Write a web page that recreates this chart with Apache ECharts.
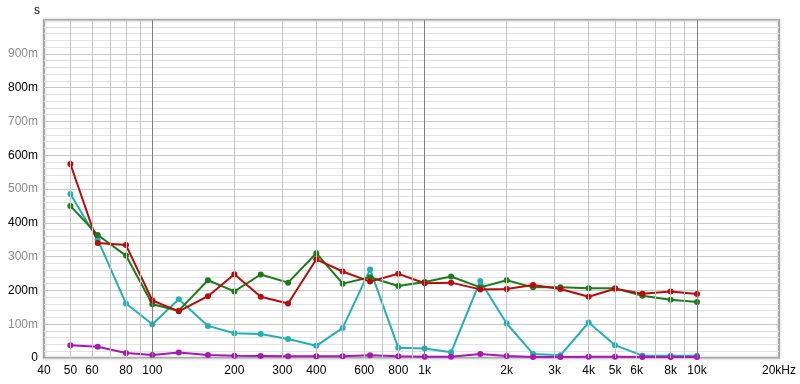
<!DOCTYPE html>
<html>
<head>
<meta charset="utf-8">
<script src="https://cdn.jsdelivr.net/npm/echarts@6/dist/echarts.min.js"></script>
<style>
html,body{margin:0;padding:0;background:#fff;}
#chart{width:800px;height:384px;}
</style>
</head>
<body>
<div id="chart"></div>
<script>
// Frequencies (Hz)
var freqs = [50, 63, 80, 100, 125, 160, 200, 250, 315, 400, 500, 630, 800, 1000, 1250, 1600, 2000, 2500, 3150, 4000, 5000, 6300, 8000, 10000];
// Values in seconds
var redValues = [0.574, 0.340, 0.334, 0.170, 0.138, 0.183, 0.248, 0.181, 0.161, 0.292, 0.256, 0.226, 0.249, 0.221, 0.223, 0.203, 0.204, 0.216, 0.204, 0.181, 0.205, 0.190, 0.197, 0.189];
var greenValues = [0.450, 0.364, 0.303, 0.159, 0.140, 0.230, 0.197, 0.247, 0.223, 0.310, 0.220, 0.239, 0.213, 0.225, 0.241, 0.209, 0.230, 0.209, 0.209, 0.206, 0.206, 0.184, 0.172, 0.166];
var cyanValues = [0.485, 0.350, 0.161, 0.100, 0.174, 0.095, 0.073, 0.071, 0.056, 0.036, 0.089, 0.262, 0.030, 0.028, 0.017, 0.228, 0.102, 0.012, 0.008, 0.105, 0.038, 0.007, 0.007, 0.007];
var magentaValues = [0.038, 0.033, 0.015, 0.009, 0.016, 0.009, 0.007, 0.006, 0.005, 0.005, 0.005, 0.008, 0.005, 0.004, 0.004, 0.012, 0.006, 0.003, 0.003, 0.004, 0.004, 0.003, 0.003, 0.003];
// Axis tick labels
var xTickValues = [40, 50, 60, 80, 100, 200, 300, 400, 600, 800, 1000, 2000, 3000, 4000, 5000, 6000, 8000, 10000, 20000];
var xMinorGrid = [50, 60, 70, 80, 90, 200, 300, 400, 500, 600, 700, 800, 900, 2000, 3000, 4000, 5000, 6000, 7000, 8000, 9000];
var xMajorGrid = [100, 1000, 10000];

function pairs(vals) { return freqs.map(function (f, i) { return [f, vals[i]]; }); }

function fmtX(v) {
  v = Math.round(v);
  if (v === 20000) return '20kHz';
  if (v >= 1000) return (v / 1000) + 'k';
  return String(v);
}

var gridLines = xMinorGrid.map(function (v) {
  return { xAxis: v, lineStyle: { color: '#c4c4c4', width: 1, type: 'solid' } };
}).concat(xMajorGrid.map(function (v) {
  return { xAxis: v, lineStyle: { color: '#808080', width: 1, type: 'solid' } };
}));

function lineSeries(name, vals, color) {
  return {
    name: name, type: 'line', data: pairs(vals), z: 3,
    symbol: 'circle', symbolSize: 6,
    itemStyle: { color: color },
    lineStyle: { color: color, width: 2 },
    animation: false
  };
}

var chart = echarts.init(document.getElementById('chart'), null, { renderer: 'canvas' });
chart.setOption({
  animation: false,
  backgroundColor: '#fff',
  textStyle: { fontFamily: 'Liberation Sans, Arial, sans-serif' },
  grid: {
    left: 44, right: 21, top: 20, bottom: 26,
    show: true, borderColor: '#a8a8a8', borderWidth: 2,
    shadowColor: 'rgba(0,0,0,0.25)', shadowBlur: 3
  },
  xAxis: {
    type: 'log', logBase: 10, min: 40, max: 20000,
    axisLine: { show: false },
    axisTick: { show: false },
    splitLine: { show: false },
    minorTick: { show: false },
    axisLabel: {
      customValues: xTickValues,
      formatter: fmtX,
      color: '#000', fontSize: 12, margin: 7,
      showMinLabel: true, showMaxLabel: true
    }
  },
  yAxis: {
    type: 'value', min: 0, max: 1, interval: 0.1,
    name: 's', nameLocation: 'end', nameGap: 3,
    nameTextStyle: { color: '#000', fontSize: 12, align: 'right', padding: [0, 4, 0, 0] },
    axisLine: { show: false },
    axisTick: { show: false },
    axisLabel: {
      fontSize: 12, margin: 6,
      formatter: function (v) {
        if (v === 0) return '0';
        if (v >= 0.999) return '';
        return Math.round(v * 1000) + 'm';
      },
      color: function (v) {
        var k = Math.round(v * 10);
        return (k % 2 === 0) ? '#000' : '#8c8c8c';
      }
    },
    splitLine: { show: true, lineStyle: { color: '#c8c8c8', width: 1 } },
    minorTick: { show: false, splitNumber: 5 },
    minorSplitLine: { show: true, lineStyle: { color: '#e2e2e2', width: 1 } }
  },
  series: [
    {
      name: 'grid', type: 'line', data: [], z: 1, silent: true,
      markLine: {
        silent: true, symbol: ['none', 'none'], animation: false,
        label: { show: false },
        data: gridLines
      }
    },
    lineSeries('cyan', cyanValues, '#22b0b8'),
    lineSeries('green', greenValues, '#1a7c1a'),
    lineSeries('red', redValues, '#bb0a0a'),
    lineSeries('magenta', magentaValues, '#a818b4')
  ]
});
</script>
</body>
</html>
